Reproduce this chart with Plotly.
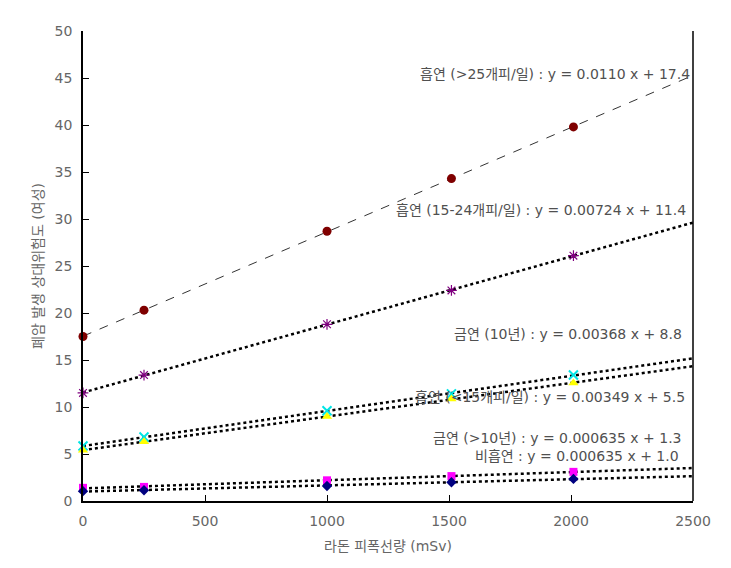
import numpy as np
import plotly.graph_objects as go

# ---- data ----
dose = [0, 250, 1000, 1510, 2010]
smoke_25 = [17.5, 20.3, 28.7, 34.3, 39.8]
smoke_15_24 = [11.5, 13.4, 18.8, 22.4, 26.1]
quit_10 = [5.85, 6.8, 9.6, 11.4, 13.4]
smoke_lt15 = [5.4, 6.3, 9.0, 10.85, 12.55]
quit_gt10 = [1.4, 1.5, 2.2, 2.65, 3.1]
never = [1.05, 1.15, 1.6, 2.0, 2.35]

labels = [
    "흡연 (>25개피/일) : y = 0.0110 x + 17.4",
    "흡연 (15-24개피/일) : y = 0.00724 x + 11.4",
    "금연 (10년) : y = 0.00368 x + 8.8",
    "흡연 (<15개피/일) : y = 0.00349 x + 5.5",
    "금연 (>10년) : y = 0.000635 x + 1.3",
    "비흡연 : y = 0.000635 x + 1.0",
]
label_y = [45.4, 30.95, 17.8, 11.1, 6.7, 4.8]
label_x = [2495, 2480, 2465, 2475, 2465, 2450]

x_ticks = [0, 500, 1000, 1500, 2000, 2500]
y_ticks = [0, 5, 10, 15, 20, 25, 30, 35, 40, 45, 50]

series = [
    (smoke_25, dict(symbol="circle", color="#7f0000", size=9), dict(color="#333333", width=1, dash="dash")),
    (smoke_15_24, dict(symbol="asterisk-open", color="#800080", size=9, line=dict(color="#800080", width=1.2)), dict(color="black", width=2.5, dash="dot")),
    (quit_10, dict(symbol="x-thin-open", color="#00e5e5", size=9, line=dict(color="#00e5e5", width=2)), dict(color="black", width=2.5, dash="dot")),
    (smoke_lt15, dict(symbol="triangle-up", color="#ffff00", size=9), dict(color="black", width=2.5, dash="dot")),
    (quit_gt10, dict(symbol="square", color="#ff00ff", size=8), dict(color="black", width=2.5, dash="dot")),
    (never, dict(symbol="diamond", color="#000080", size=8), dict(color="black", width=2.5, dash="dot")),
]

fig = go.Figure()
xl = np.array([0, 2500])
for ys, mk, ln in series:
    k, b = np.polyfit(dose, ys, 1)
    fig.add_trace(go.Scatter(x=xl, y=k * xl + b, mode="lines", line=ln,
                             showlegend=False, hoverinfo="skip"))
for ys, mk, ln in series:
    fig.add_trace(go.Scatter(x=dose, y=ys, mode="markers", marker=mk,
                             showlegend=False, cliponaxis=False))

font = "DejaVu Sans, Noto Sans CJK KR, sans-serif"
for t, xx, yy in zip(labels, label_x, label_y):
    fig.add_annotation(x=xx, y=yy, text=t, showarrow=False, xanchor="right",
                       yanchor="middle", font=dict(family=font, size=14, color="#505050"))

fig.add_shape(type="line", xref="paper", yref="paper", x0=1, x1=1, y0=0, y1=1,
              line=dict(color="black", width=1.5))

fig.update_layout(
    width=731, height=568,
    margin=dict(l=83, r=38, t=31, b=67),
    plot_bgcolor="white", paper_bgcolor="white",
    font=dict(family=font, size=14, color="#666666"),
)
fig.update_xaxes(range=[0, 2500], tickvals=x_ticks, ticks="inside", ticklen=6,
                 tickcolor="black", showline=True, linecolor="black", linewidth=1.5,
                 showgrid=False, zeroline=False, ticklabelstandoff=6,
                 title=dict(text="라돈 피폭선량 (mSv)", standoff=14, font=dict(size=14, color="#666666")))
fig.update_yaxes(range=[0, 50], tickvals=y_ticks, ticks="inside", ticklen=6,
                 tickcolor="black", showline=True, linecolor="black", linewidth=1.5,
                 showgrid=False, zeroline=False, ticklabelstandoff=6,
                 title=dict(text="폐암 발생 상대위험도 (여성)", standoff=8, font=dict(size=14, color="#666666")))

fig.write_html("out.html")
